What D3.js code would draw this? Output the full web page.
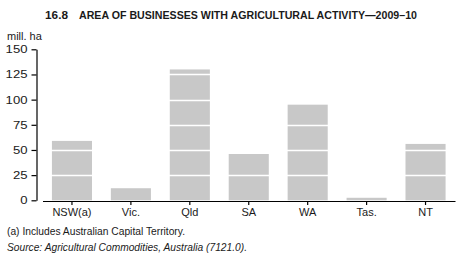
<!DOCTYPE html>
<html>
<head>
<meta charset="utf-8">
<script src="https://cdn.jsdelivr.net/npm/d3@7"></script>
<style>
  html, body { margin: 0; padding: 0; background: #fff; }
  svg { display: block; }
  text { fill: #1a1a1a; }
</style>
</head>
<body>
<script>
const categories = ["NSW(a)", "Vic.", "Qld", "SA", "WA", "Tas.", "NT"];
const values = [59, 12, 130, 46, 95, 2.5, 56];
const yTicks = [0, 25, 50, 75, 100, 125, 150];
const titleNumber = "16.8";
const titleText = "AREA OF BUSINESSES WITH AGRICULTURAL ACTIVITY\u20142009\u201310";
const unitLabel = "mill. ha";
const footnote = "(a) Includes Australian Capital Territory.";
const sourcePrefix = "Source: ";
const sourceText = "Agricultural Commodities, Australia (7121.0).";

const W = 463, H = 265;
const svg = d3.select("body").append("svg").attr("width", W).attr("height", H);
const font = "'Liberation Sans', Arial, sans-serif";

const x = d3.scaleBand().domain(categories).range([42.5, 455]).paddingInner(0.32).paddingOuter(0.16);
const y = d3.scaleLinear().domain([0, 150]).range([200.3, 49.3]);

// Title
svg.append("text").attr("x", 45).attr("y", 18.5)
  .attr("font-family", font).attr("font-weight", "bold").attr("font-size", 11.5)
  .attr("textLength", 23).attr("lengthAdjust", "spacingAndGlyphs")
  .text(titleNumber);
svg.append("text").attr("x", 79).attr("y", 18.5)
  .attr("font-family", font).attr("font-weight", "bold").attr("font-size", 11.5)
  .attr("textLength", 338).attr("lengthAdjust", "spacingAndGlyphs")
  .text(titleText);

// Unit label
svg.append("text").attr("x", 7).attr("y", 39.5)
  .attr("font-family", font).attr("font-size", 11)
  .text(unitLabel);

// Bars
svg.append("g").selectAll("rect").data(categories).join("rect")
  .attr("x", d => x(d))
  .attr("width", x.bandwidth())
  .attr("y", (d, i) => y(values[i]))
  .attr("height", (d, i) => y(0) - y(values[i]))
  .attr("fill", "#c8c8c8");

// White gridlines over bars
svg.append("g").selectAll("line").data(yTicks.filter(t => t > 0)).join("line")
  .attr("x1", 42).attr("x2", 455)
  .attr("y1", d => Math.round(y(d)) + 0.5).attr("y2", d => Math.round(y(d)) + 0.5)
  .attr("stroke", "#fff").attr("stroke-width", 1.5);

// Y axis
const yAxis = svg.append("g").attr("transform", "translate(36.5,0)")
  .call(d3.axisLeft(y).tickValues(yTicks).tickSize(5).tickSizeOuter(0).tickPadding(4));
yAxis.select(".domain").attr("stroke", "#000").attr("stroke-width", 1.2);
yAxis.selectAll(".tick line").attr("stroke", "#000").attr("stroke-width", 1.2);
yAxis.selectAll(".tick text")
  .attr("font-family", font).attr("font-size", 10.5).attr("fill", "#1a1a1a")
  .attr("textLength", d => String(d).length * 7.3).attr("lengthAdjust", "spacingAndGlyphs");

// X axis
const xAxis = svg.append("g").attr("transform", "translate(0,201)")
  .call(d3.axisBottom(x).tickSize(4).tickSizeOuter(0).tickPadding(3));
xAxis.select(".domain").attr("stroke", "#000").attr("stroke-width", 1.2);
xAxis.selectAll(".tick line").attr("stroke", "#000").attr("stroke-width", 1.2);
xAxis.selectAll(".tick text")
  .attr("font-family", font).attr("font-size", 11).attr("fill", "#1a1a1a");

// Footnotes
svg.append("text").attr("x", 7).attr("y", 235)
  .attr("font-family", font).attr("font-size", 10)
  .attr("textLength", 178).attr("lengthAdjust", "spacingAndGlyphs")
  .text(footnote);
const src = svg.append("text").attr("x", 7).attr("y", 251)
  .attr("font-family", font).attr("font-size", 10).attr("font-style", "italic")
  .attr("textLength", 240).attr("lengthAdjust", "spacingAndGlyphs");
src.append("tspan").text(sourcePrefix);
src.append("tspan").text(sourceText);
</script>
</body>
</html>
